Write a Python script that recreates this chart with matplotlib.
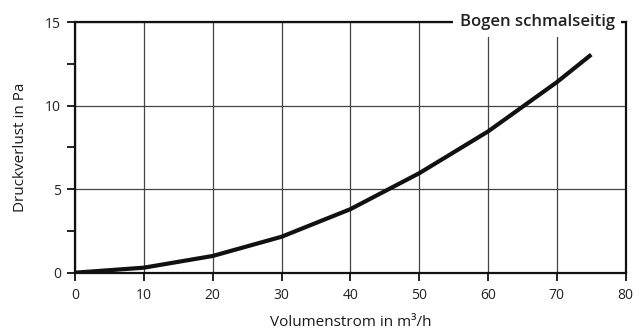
import matplotlib
matplotlib.use("Agg")
import matplotlib.pyplot as plt
from matplotlib.ticker import MultipleLocator

plt.rcParams['font.family'] = ['Open Sans', 'DejaVu Sans']

flow = [0, 10, 20, 30, 40, 50, 60, 70, 75]
pressure = [0.0, 0.30, 1.0, 2.15, 3.8, 5.95, 8.45, 11.4, 13.05]
x_ticks = [0, 10, 20, 30, 40, 50, 60, 70, 80]
y_ticks = [0, 5, 10, 15]
title = "Bogen schmalseitig"
xlabel = "Volumenstrom in m³/h"
ylabel = "Druckverlust in Pa"

fig = plt.figure(figsize=(6.42, 3.33), dpi=100)
ax = fig.add_axes([0.1168, 0.1811, 0.8578, 0.7528])

ax.set_xlim(0, 80)
ax.set_ylim(0, 15)
ax.set_xticks(x_ticks)
ax.set_yticks(y_ticks)
ax.yaxis.set_minor_locator(MultipleLocator(2.5))

ax.grid(True, which='major', color='#444444', linewidth=0.9)
ax.set_axisbelow(True)

ax.plot(flow, pressure, color='#111111', linewidth=3.0, solid_capstyle='butt', zorder=3)

for s in ax.spines.values():
    s.set_linewidth(1.6)
    s.set_color('#111111')
    s.set_zorder(2.5)

ax.tick_params(axis='both', which='major', direction='out', length=6, width=1.3,
               color='#111111', labelsize=10, labelcolor='#222222', pad=4)
ax.tick_params(axis='y', which='minor', direction='out', length=6, width=1.3, color='#111111')
ax.tick_params(axis='x', which='major', pad=5)

ax.set_xlabel(xlabel, fontsize=11, color='#1a1a1a', labelpad=9)
ax.set_ylabel(ylabel, fontsize=11, color='#1a1a1a', labelpad=12)

ax.text(0.98, 1.0, title, transform=ax.transAxes, ha='right', va='center',
        fontsize=12, color='#222222', fontweight='semibold', zorder=10,
        bbox=dict(boxstyle='square,pad=0.4', facecolor='white', edgecolor='none'))

fig.savefig('out.png', dpi=100)
